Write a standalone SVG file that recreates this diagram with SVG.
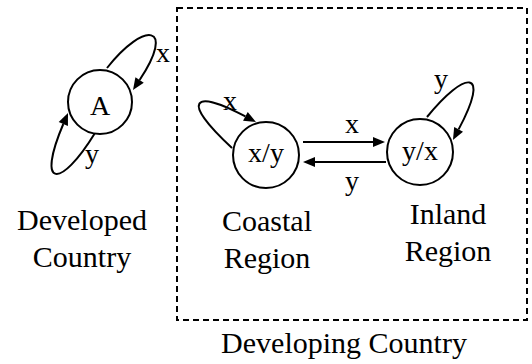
<svg xmlns="http://www.w3.org/2000/svg" width="532" height="364" viewBox="0 0 532 364" font-family="'Liberation Serif', 'Times New Roman', Times, serif">
<style>
.node circle{fill:#fff;stroke:#000;stroke-width:2}
.edge{fill:none;stroke:#000;stroke-width:2;marker-end:url(#ah)}
text{fill:#000;text-anchor:middle}
.t{font-size:28px}
.lbl{font-size:30px}
.cluster{fill:none;stroke:#000;stroke-width:2;stroke-dasharray:6 4}
</style>
<defs>
<marker id="ah" markerWidth="12" markerHeight="10" refX="0" refY="5" orient="auto" markerUnits="userSpaceOnUse" overflow="visible">
<path d="M0,0 L12,5 L0,10 z" fill="#000"/>
</marker>
</defs>
<rect width="532" height="364" fill="#fff"/>
<g id="cluster-developing">
<rect class="cluster" x="177" y="8" width="350" height="312"/>
<text class="lbl" x="344" y="353">Developing Country</text>
</g>
<g id="connectors">
<path class="edge" d="M107,68 C145,20 176,25 139.6,80"/>
<path class="edge" d="M95,133 C60,190 36,188 63.3,124"/>
<path class="edge" d="M232,148 C180,100 192.6,88.2 245.4,116.4"/>
<path class="edge" d="M427,117 C465,70 491.5,67.8 458.6,129.4"/>
<path class="edge" d="M303,142 L373,142"/>
<path class="edge" d="M386,162 L315,162"/>
<text class="t" x="163" y="62">x</text>
<text class="t" x="92" y="163">y</text>
<text class="t" x="230" y="110">x</text>
<text class="t" x="441" y="88">y</text>
<text class="t" x="352" y="133">x</text>
<text class="t" x="352" y="190">y</text>
</g>
<g id="node-A" class="node">
<circle cx="100" cy="102" r="32"/>
<text class="t" x="100" y="115">A</text>
</g>
<g id="node-coastal" class="node">
<circle cx="266" cy="155" r="33"/>
<text class="t" x="266" y="162">x/y</text>
</g>
<g id="node-inland" class="node">
<circle cx="420" cy="152" r="33"/>
<text class="t" x="420" y="160">y/x</text>
</g>
<g id="label-developed">
<text class="lbl" x="82" y="230">Developed</text>
<text class="lbl" x="82" y="267">Country</text>
</g>
<g id="label-coastal">
<text class="lbl" x="267" y="231">Coastal</text>
<text class="lbl" x="267" y="268">Region</text>
</g>
<g id="label-inland">
<text class="lbl" x="448" y="224">Inland</text>
<text class="lbl" x="448" y="261">Region</text>
</g>
</svg>
